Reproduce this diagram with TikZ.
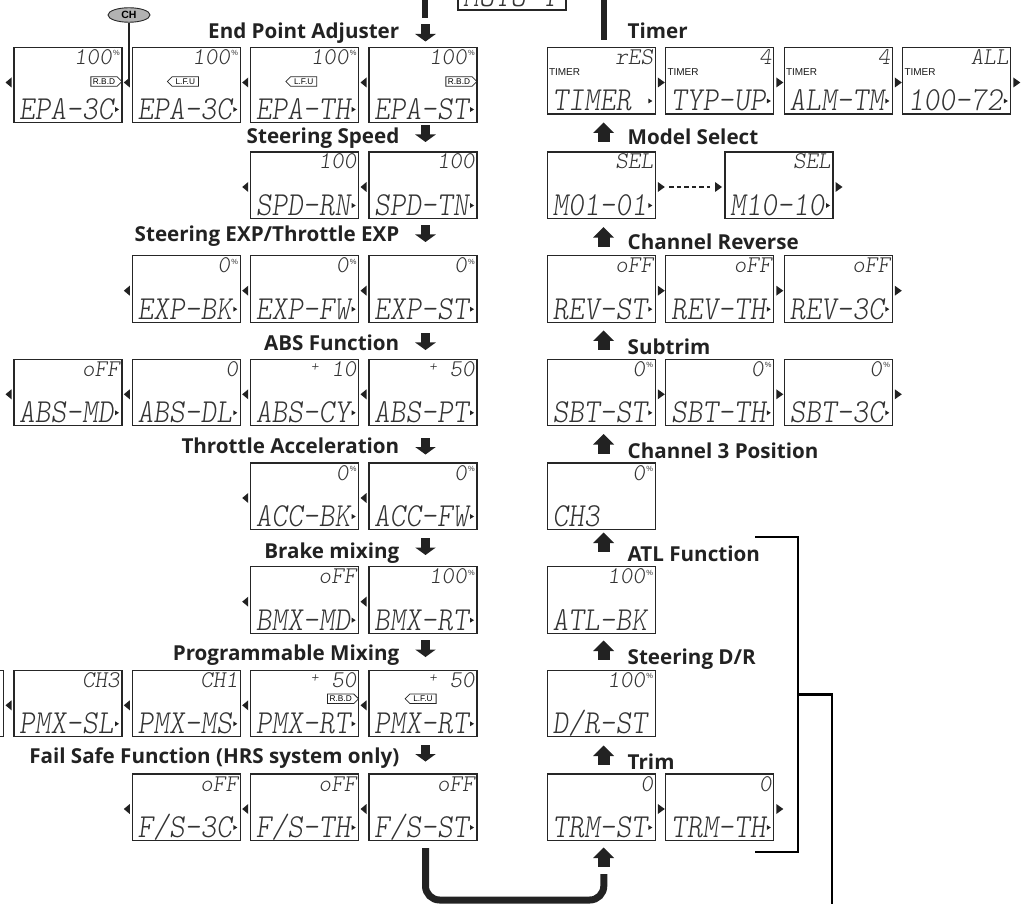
\documentclass[tikz,border=0pt]{standalone}
\usepackage{fontspec}
\usepackage{graphicx}
\usetikzlibrary{calc,shapes.symbols,shapes.geometric}
\newfontfamily\titlef{Open Sans}
\newfontfamily\lcdf{lmmonolt10-regular.otf}[FakeSlant=0.14]
\newfontfamily\labf{Liberation Sans}
\definecolor{ink}{HTML}{222222}
\newcommand{\pct}{\hspace{1.2pt}\raisebox{8.5pt}{\labf\fontsize{7.5}{7.5}\selectfont\%}}
\newcommand{\np}{\hspace{6pt}}
\newcommand{\lplus}{\raisebox{5pt}{\fontsize{15}{15}\selectfont +}}
\newcommand{\scr}[6]{%
  \node[screen, minimum height=#4pt, anchor=north west] (#1) at (#2,#3) {};
  \node[lcdlow, anchor=base west] (#1lo) at ($(#1.south west)+(5,-3)$) {\scalebox{1}[1.12]{#6}};
  \node[lcdup, anchor=base east] (#1up) at ($(#1.north east)+(-2,17)$) {#5};}
\newcommand{\ltri}[1]{\fill[ink] ($(#1.north west)+(-8.5,35)$) -- ++(6,-5) -- ++(0,10) -- cycle;}
\newcommand{\rtri}[1]{\fill[ink] ($(#1.north east)+(9.5,35)$) -- ++(-7,-5) -- ++(0,10) -- cycle;}
\newcommand{\ttri}[1]{\fill[ink] ($(#1.south east)+(-3,-13)$) -- ++(-4,-2.5) -- ++(0,5) -- cycle;}
\tikzset{
  screen/.style={rectangle, draw=black!85, line width=1.3pt, minimum width=108pt, inner sep=0pt, outer sep=0pt},
  lcdlow/.style={inner sep=0pt, font=\lcdf\fontsize{30}{30}\selectfont, text=black!80},
  lcdup/.style={inner sep=0pt, font=\lcdf\fontsize{24}{24}\selectfont, text=black!80},
  ttl/.style={inner sep=0pt, font=\titlef\bfseries\fontsize{20.6}{21}\selectfont, text=ink},
  timlab/.style={inner sep=0pt, font=\labf\fontsize{10}{10}\selectfont, text=black!90},
  badgeR/.style={draw=black!85, line width=0.8pt, shape=signal, signal to=east, signal from=nowhere, inner xsep=1.2pt, inner ysep=0.6pt, minimum width=31pt, minimum height=9.5pt, font=\labf\fontsize{8.3}{8.3}\selectfont},
  badgeL/.style={badgeR, signal to=west},
  vline/.style={line width=6pt, draw=ink},
  uline/.style={line width=7pt, draw=ink},
  brk/.style={line width=2.5pt, draw=black, line join=miter},
  darr/.pic={\fill[ink] (-4.3,-17) rectangle (4.3,-7); \fill[ink] (-10.3,-7.5) -- (10.3,-7.5) -- (0,0) -- cycle;},
  uarr/.pic={\fill[ink] (-6,0) rectangle (6,-9.5); \fill[ink] (-10.5,-9) -- (10.5,-9) -- (0,-19.5) -- cycle;}
}
\begin{document}
\begin{tikzpicture}[x=1pt,y=-1pt]
\useasboundingbox (0,0) rectangle (1029,904);
\clip (0,0) rectangle (1029,904);
% ---------- top connections ----------
\scr{topbox}{458}{-56.5}{66.5}{}{MOTO-T}
\coordinate (tlA) at (425.3,-5); \coordinate (tlB) at (425.3,18);
\draw[vline] (tlA) -- (tlB);
\coordinate (trA) at (603.8,-5); \coordinate (trB) at (603.8,40);
\draw[vline] (trA) -- (trB);
% ---------- left column titles ----------
\node[ttl, anchor=base east] (t1) at (399.5,38.5) {End Point Adjuster};
\node[ttl, anchor=base east] (t2) at (399.5,143.3) {Steering Speed};
\node[ttl, anchor=base east] (t3) at (399.5,241.7) {Steering EXP/Throttle EXP};
\node[ttl, anchor=base east] (t4) at (399.5,350.7) {ABS Function};
\node[ttl, anchor=base east] (t5) at (399.5,453.3) {Throttle Acceleration};
\node[ttl, anchor=base east] (t6) at (399.5,558) {Brake mixing};
\node[ttl, anchor=base east] (t7) at (399.5,660.7) {Programmable Mixing};
\node[ttl, anchor=base east] (t8) at (399.5,763.5) {Fail Safe Function (HRS system only)};
\foreach \b in {41.5,142,242,350,454.5,555,657,761.5} {\pic at (425.5,\b) {darr};}
% ---------- right column titles ----------
\node[ttl, anchor=base west] (r1) at (627.5,38.3) {Timer};
\node[ttl, anchor=base west] (r2) at (627.5,145) {Model Select};
\node[ttl, anchor=base west] (r3) at (627.5,250) {Channel Reverse};
\node[ttl, anchor=base west] (r4) at (627.5,355) {Subtrim};
\node[ttl, anchor=base west] (r5) at (627.5,458.3) {Channel 3 Position};
\node[ttl, anchor=base west] (r6) at (627.5,561.7) {ATL Function};
\node[ttl, anchor=base west] (r7) at (627.5,664) {Steering D/R};
\node[ttl, anchor=base west] (r8) at (627.5,769) {Trim};
\foreach \b in {142,246.7,350,453.5,552,660,765,867} {\pic at (603.5,\b) {uarr};}
% ---------- left column screens ----------
\scr{epaA}{14}{47.5}{75}{100\pct}{EPA-3C}
\scr{epaB}{132.3}{47.5}{75}{100\pct}{EPA-3C}
\scr{epaC}{250.7}{47.5}{75}{100\pct}{EPA-TH}
\scr{epaD}{369}{47.5}{75}{100\pct}{EPA-ST}
\node[badgeR] (bdA) at ($(epaA.north west)+(90,34)$) {R.B.D};
\node[badgeL] (bdB) at ($(epaB.north west)+(53,34)$) {L.F.U};
\node[badgeL] (bdC) at ($(epaC.north west)+(53,34)$) {L.F.U};
\node[badgeR] (bdD) at ($(epaD.north west)+(90,34)$) {R.B.D};
\scr{spdC}{250.7}{152}{66.5}{100\np}{SPD-RN}
\scr{spdD}{369}{152}{66.5}{100\np}{SPD-TN}
\scr{expB}{132.3}{255.7}{66.5}{0\pct}{EXP-BK}
\scr{expC}{250.7}{255.7}{66.5}{0\pct}{EXP-FW}
\scr{expD}{369}{255.7}{66.5}{0\pct}{EXP-ST}
\scr{absA}{14}{359.3}{66.5}{oFF\np}{ABS-MD}
\scr{absB}{132.3}{359.3}{66.5}{0\np}{ABS-DL}
\scr{absC}{250.7}{359.3}{66.5}{\lplus\ 10\np}{ABS-CY}
\scr{absD}{369}{359.3}{66.5}{\lplus\ 50\np}{ABS-PT}
\scr{accC}{250.7}{463}{66.5}{0\pct}{ACC-BK}
\scr{accD}{369}{463}{66.5}{0\pct}{ACC-FW}
\scr{bmxC}{250.7}{566.7}{66.5}{oFF\np}{BMX-MD}
\scr{bmxD}{369}{566.7}{66.5}{100\pct}{BMX-RT}
\node[screen, minimum height=66.5pt, anchor=north west] (pmx0) at (-104.3,670.3) {};
\scr{pmxA}{14}{670.3}{66.5}{CH3\np}{PMX-SL}
\scr{pmxB}{132.3}{670.3}{66.5}{CH1\np}{PMX-MS}
\scr{pmxC}{250.7}{670.3}{66.5}{\lplus\ 50\np}{PMX-RT}
\scr{pmxD}{369}{670.3}{66.5}{\lplus\ 50\np}{PMX-RT}
\node[badgeR] (bdPC) at ($(pmxC.north west)+(90,28.5)$) {R.B.D};
\node[badgeL] (bdPD) at ($(pmxD.north west)+(54,28.5)$) {L.F.U};
\scr{fsB}{132.3}{774}{66.5}{oFF\np}{F/S-3C}
\scr{fsC}{250.7}{774}{66.5}{oFF\np}{F/S-TH}
\scr{fsD}{369}{774}{66.5}{oFF\np}{F/S-ST}
\foreach \n in {epaA,epaB,epaC,epaD,spdC,spdD,expB,expC,expD,absA,absB,absC,absD,accC,accD,bmxC,bmxD,pmxA,pmxB,pmxC,pmxD,fsB,fsC,fsD} {\ltri{\n}\ttri{\n}}
% ---------- right column screens ----------
\scr{tm1}{547.3}{47.5}{66.5}{rES\np}{TIMER}
\scr{tm2}{665.8}{47.5}{66.5}{4\np}{TYP-UP}
\scr{tm3}{784.3}{47.5}{66.5}{4\np}{ALM-TM}
\scr{tm4}{902.8}{47.5}{66.5}{ALL\np}{100-72}
\foreach \n in {tm1,tm2,tm3,tm4} {\node[timlab, anchor=west] (\n lab) at ($(\n.north west)+(1.5,25)$) {TIMER};}
\scr{ms1}{547.3}{152}{66.5}{SEL\np}{M01-01}
\scr{ms2}{725}{152}{66.5}{SEL\np}{M10-10}
\scr{rev1}{547.3}{255.7}{66.5}{oFF\np}{REV-ST}
\scr{rev2}{665.8}{255.7}{66.5}{oFF\np}{REV-TH}
\scr{rev3}{784.3}{255.7}{66.5}{oFF\np}{REV-3C}
\scr{sbt1}{547.3}{359.3}{66.5}{0\pct}{SBT-ST}
\scr{sbt2}{665.8}{359.3}{66.5}{0\pct}{SBT-TH}
\scr{sbt3}{784.3}{359.3}{66.5}{0\pct}{SBT-3C}
\scr{ch3}{547.3}{463}{66.5}{0\pct}{CH3}
\scr{atl}{547.3}{566.7}{66.5}{100\pct}{ATL-BK}
\scr{dr}{547.3}{670.3}{66.5}{100\pct}{D/R-ST}
\scr{trm1}{547.3}{774}{66.5}{0\np}{TRM-ST}
\scr{trm2}{665.8}{774}{66.5}{0\np}{TRM-TH}
\foreach \n in {tm1,tm2,tm3,tm4,ms1,ms2,rev1,rev2,rev3,sbt1,sbt2,sbt3,trm1,trm2} {\rtri{\n}\ttri{\n}}
\fill[ink] ($(ms2.north west)+(-3,35)$) -- ++(-7,-5) -- ++(0,10) -- cycle;
\coordinate (dA) at ($(ms1.north east)+(14,35)$);
\coordinate (dB) at ($(ms2.north west)+(-15,35)$);
\draw[ink, line width=2pt, dash pattern=on 4.5pt off 3pt] (dA) -- (dB);
% ---------- CH pointer ----------
\node[ellipse, draw=black!85, fill=black!30, line width=0.9pt, minimum width=42pt, minimum height=14.5pt, inner sep=0pt, font=\labf\bfseries\fontsize{10.5}{10.5}\selectfont] (ch) at (129,15) {CH};
\coordinate (chEnd) at (129,79);
\draw[ink, line width=1.8pt] (ch.south) -- (chEnd);
% ---------- bottom U connector ----------
\coordinate (uA) at (425.5,848);
\coordinate (uB) at (603.8,874);
\coordinate (uBot) at (0,900);
\draw[uline, rounded corners=14pt] (uA) -- (uA |- uBot) -- (uB |- uBot) -- (uB);
% ---------- bracket ----------
\coordinate (b1) at (755,537); \coordinate (b2) at (798,537);
\coordinate (b3) at (798,852); \coordinate (b4) at (755,852);
\coordinate (bm) at (798,694.5); \coordinate (bo1) at (832,694.5); \coordinate (bo2) at (832,910);
\draw[brk] (b1) -- (b2) -- (b3) -- (b4);
\draw[brk] (bm) -- (bo1) -- (bo2);
\end{tikzpicture}
\end{document}
